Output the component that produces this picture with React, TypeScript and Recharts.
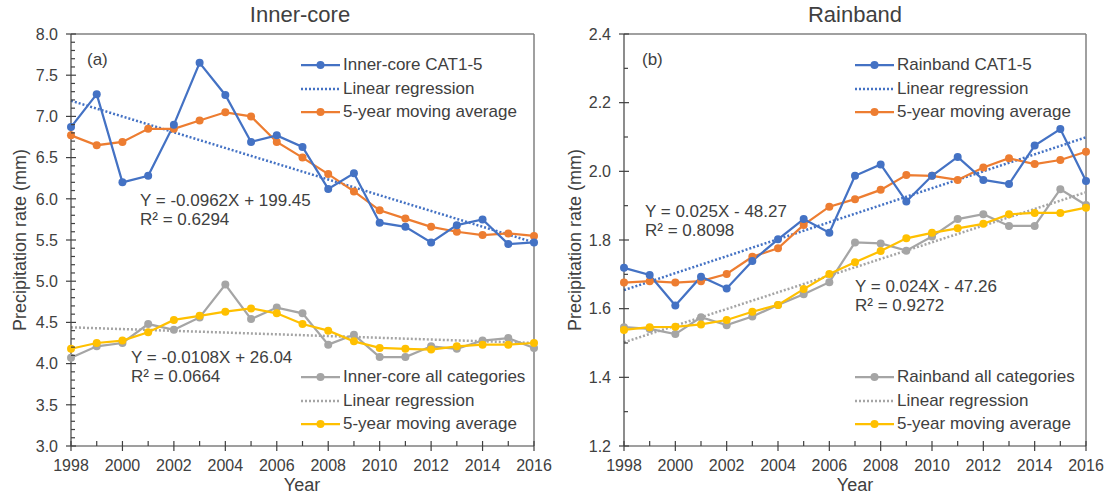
import React from 'react';
import { LineChart, Line, XAxis, YAxis, ReferenceLine } from 'recharts';

const years = [1998, 1999, 2000, 2001, 2002, 2003, 2004, 2005, 2006, 2007, 2008, 2009, 2010, 2011, 2012, 2013, 2014, 2015, 2016];
const xTickLabels = [1998, 2000, 2002, 2004, 2006, 2008, 2010, 2012, 2014, 2016];

const innerCat = [6.87, 7.27, 6.2, 6.28, 6.9, 7.65, 7.26, 6.69, 6.77, 6.63, 6.12, 6.31, 5.71, 5.66, 5.47, 5.68, 5.75, 5.45, 5.47];
const innerCatMA = [6.77, 6.65, 6.69, 6.85, 6.85, 6.95, 7.05, 7.0, 6.69, 6.5, 6.3, 6.09, 5.86, 5.76, 5.66, 5.6, 5.56, 5.58, 5.55];
const innerAll = [4.07, 4.21, 4.25, 4.48, 4.41, 4.56, 4.96, 4.54, 4.68, 4.61, 4.23, 4.35, 4.08, 4.08, 4.21, 4.18, 4.28, 4.31, 4.19];
const innerAllMA = [4.18, 4.25, 4.28, 4.38, 4.53, 4.58, 4.63, 4.67, 4.61, 4.48, 4.4, 4.27, 4.19, 4.18, 4.17, 4.21, 4.23, 4.23, 4.25];
const innerCatReg = [7.19, 5.47];
const innerAllReg = [4.44, 4.25];
const innerYTicks = [3.0, 3.5, 4.0, 4.5, 5.0, 5.5, 6.0, 6.5, 7.0, 7.5, 8.0];

const rainCat = [1.719, 1.698, 1.609, 1.693, 1.659, 1.739, 1.802, 1.861, 1.821, 1.987, 2.02, 1.912, 1.987, 2.042, 1.975, 1.963, 2.075, 2.123, 1.972];
const rainCatMA = [1.676, 1.68, 1.676, 1.68, 1.701, 1.751, 1.776, 1.844, 1.897, 1.919, 1.946, 1.989, 1.987, 1.975, 2.011, 2.038, 2.021, 2.033, 2.057];
const rainAll = [1.546, 1.541, 1.526, 1.575, 1.552, 1.577, 1.611, 1.642, 1.677, 1.793, 1.79, 1.769, 1.81, 1.861, 1.875, 1.841, 1.841, 1.948, 1.902];
const rainAllMA = [1.538, 1.546, 1.547, 1.554, 1.567, 1.591, 1.611, 1.657, 1.701, 1.735, 1.768, 1.805, 1.821, 1.834, 1.847, 1.875, 1.879, 1.879, 1.894];
const rainCatReg = [1.654, 2.099];
const rainAllReg = [1.502, 1.939];
const rainYTicks = [1.2, 1.4, 1.6, 1.8, 2.0, 2.2, 2.4];

const BLUE = '#4472C4';
const ORANGE = '#ED7D31';
const GRAY = '#A5A5A5';
const YELLOW = '#FFC000';
const TEXT = '#404040';
const AXIS = '#404040';
const FONT = '"Liberation Sans", Arial, sans-serif';

function minorTicks(major: number[], parts: number): number[] {
  const out: number[] = [];
  for (let i = 0; i < major.length - 1; i++) {
    const step = (major[i + 1] - major[i]) / parts;
    for (let k = 0; k < parts; k++) out.push(Math.round((major[i] + step * k) * 1000) / 1000);
  }
  out.push(major[major.length - 1]);
  return out;
}

const Y_MARGIN = 13;
const X_MARGIN = 14;

function makeYTick(major: number[], decimals: number) {
  const majorSet = new Set(major.map((v) => v.toFixed(3)));
  return (props: any) => {
    const { x, y, payload } = props;
    const ax = x + Y_MARGIN;
    const isMajor = majorSet.has(Number(payload.value).toFixed(3));
    return (
      <g>
        {isMajor ? (
          <>
            <line x1={ax - 5} x2={ax + 5} y1={y} y2={y} stroke={AXIS} strokeWidth={1.2} />
            <text x={x} y={y} dy="0.36em" textAnchor="end" fontSize={16} fill={TEXT} fontFamily={FONT}>
              {Number(payload.value).toFixed(decimals)}
            </text>
          </>
        ) : (
          <line x1={ax} x2={ax + 4} y1={y} y2={y} stroke={AXIS} strokeWidth={1.2} />
        )}
      </g>
    );
  };
}

const majorX = new Set(xTickLabels);
const XTick = (props: any) => {
  const { x, y, payload } = props;
  const ay = y - X_MARGIN;
  const isMajor = majorX.has(payload.value);
  return (
    <g>
      {isMajor ? (
        <>
          <line x1={x} x2={x} y1={ay - 5} y2={ay + 5} stroke={AXIS} strokeWidth={1.2} />
          <text x={x} y={y} dy="0.71em" textAnchor="middle" fontSize={16} fill={TEXT} fontFamily={FONT}>
            {payload.value}
          </text>
        </>
      ) : (
        <line x1={x} x2={x} y1={ay - 5} y2={ay} stroke={AXIS} strokeWidth={1.2} />
      )}
    </g>
  );
};

type LegendItem = { label: string; color: string; dotted?: boolean };

const Legend = ({ left, top, items }: { left: number; top: number; items: LegendItem[] }) => (
  <div style={{ position: 'absolute', left, top }}>
    {items.map((it, i) => (
      <div key={i} style={{ position: 'absolute', left: 0, top: i * 23.5 - 11, height: 22, display: 'flex', alignItems: 'center', whiteSpace: 'nowrap' }}>
        <svg width={42} height={22} style={{ display: 'block' }}>
          {it.dotted ? (
            <line x1={1} x2={40} y1={11} y2={11} stroke={it.color} strokeWidth={2.5} strokeDasharray="2 2" />
          ) : (
            <>
              <line x1={1} x2={40} y1={11} y2={11} stroke={it.color} strokeWidth={2.25} />
              <circle cx={20.5} cy={11} r={4} fill={it.color} />
            </>
          )}
        </svg>
        <span style={{ fontSize: 17, color: TEXT, fontFamily: FONT, marginLeft: 1 }}>{it.label}</span>
      </div>
    ))}
  </div>
);

const Txt = ({ left, top, children, size = 17 }: any) => (
  <div style={{ position: 'absolute', left, top, fontSize: size, color: TEXT, fontFamily: FONT, whiteSpace: 'nowrap', lineHeight: '19px' }}>
    {children}
  </div>
);

type PanelProps = {
  offsetX: number;
  title: string;
  domain: [number, number];
  yMajor: number[];
  minorParts: number;
  decimals: number;
  cat: number[];
  catMA: number[];
  all: number[];
  allMA: number[];
  catReg: number[];
  allReg: number[];
  marginLeft: number;
  marginRight: number;
};

const W = 554;
const H = 497;

const Panel = (p: PanelProps) => {
  const data = years.map((yr, i) => ({ year: yr, cat: p.cat[i], catMA: p.catMA[i], all: p.all[i], allMA: p.allMA[i] }));
  const catRegData = [
    { year: years[0], v: p.catReg[0] },
    { year: years[years.length - 1], v: p.catReg[1] },
  ];
  const allRegData = [
    { year: years[0], v: p.allReg[0] },
    { year: years[years.length - 1], v: p.allReg[1] },
  ];
  const yTicks = minorTicks(p.yMajor, p.minorParts);
  const YTick = makeYTick(p.yMajor, p.decimals);
  const dot = (c: string) => ({ r: 4, fill: c, stroke: c, strokeWidth: 0 });
  return (
    <div style={{ position: 'absolute', left: p.offsetX, top: 0, width: W, height: H }}>
      <LineChart width={W} height={H} data={data} margin={{ top: 34, right: p.marginRight, bottom: 0, left: p.marginLeft }}>
        <XAxis
          dataKey="year"
          type="number"
          domain={[years[0], years[years.length - 1]]}
          ticks={years}
          interval={0}
          tick={XTick}
          tickLine={false}
          tickSize={0}
          tickMargin={X_MARGIN}
          height={51}
          axisLine={{ stroke: AXIS, strokeWidth: 1.2 }}
          allowDuplicatedCategory={false}
        />
        <YAxis
          type="number"
          domain={p.domain}
          ticks={yTicks}
          interval={0}
          tick={YTick}
          tickLine={false}
          tickSize={0}
          tickMargin={Y_MARGIN}
          width={60}
          axisLine={{ stroke: AXIS, strokeWidth: 1.2 }}
          allowDataOverflow
        />
        <ReferenceLine y={p.domain[1]} stroke="#808080" strokeWidth={1.5} />
        <ReferenceLine x={years[years.length - 1]} stroke="#808080" strokeWidth={1.5} />
        <Line data={allRegData} dataKey="v" stroke={GRAY} strokeWidth={2.5} strokeDasharray="2 2" dot={false} isAnimationActive={false} />
        <Line dataKey="all" stroke={GRAY} strokeWidth={2.25} dot={dot(GRAY)} isAnimationActive={false} />
        <Line dataKey="allMA" stroke={YELLOW} strokeWidth={2.25} dot={dot(YELLOW)} isAnimationActive={false} />
        <Line data={catRegData} dataKey="v" stroke={BLUE} strokeWidth={2.5} strokeDasharray="2 2" dot={false} isAnimationActive={false} />
        <Line dataKey="catMA" stroke={ORANGE} strokeWidth={2.25} dot={dot(ORANGE)} isAnimationActive={false} />
        <Line dataKey="cat" stroke={BLUE} strokeWidth={2.25} dot={dot(BLUE)} isAnimationActive={false} />
      </LineChart>
    </div>
  );
};

export default function App() {
  return (
    <div style={{ position: 'absolute', left: 0, top: 0, width: 1108, height: 497, background: '#fff', overflow: 'hidden', fontFamily: FONT }}>
      <Panel
        offsetX={0}
        title="Inner-core"
        domain={[3, 8]}
        yMajor={innerYTicks}
        minorParts={5}
        decimals={1}
        cat={innerCat}
        catMA={innerCatMA}
        all={innerAll}
        allMA={innerAllMA}
        catReg={innerCatReg}
        allReg={innerAllReg}
        marginLeft={11}
        marginRight={20}
      />
      <Panel
        offsetX={554}
        title="Rainband"
        domain={[1.2, 2.4]}
        yMajor={rainYTicks}
        minorParts={2}
        decimals={1}
        cat={rainCat}
        catMA={rainCatMA}
        all={rainAll}
        allMA={rainAllMA}
        catReg={rainCatReg}
        allReg={rainAllReg}
        marginLeft={10}
        marginRight={22}
      />

      {/* titles */}
      <div style={{ position: 'absolute', left: 200, width: 200, top: 2, textAlign: 'center', fontSize: 22, color: TEXT, fontFamily: FONT }}>Inner-core</div>
      <div style={{ position: 'absolute', left: 755, width: 200, top: 2, textAlign: 'center', fontSize: 22, color: TEXT, fontFamily: FONT }}>Rainband</div>

      {/* axis titles */}
      <div style={{ position: 'absolute', left: 252, width: 100, top: 475, textAlign: 'center', fontSize: 18, color: TEXT, fontFamily: FONT }}>Year</div>
      <div style={{ position: 'absolute', left: 805, width: 100, top: 475, textAlign: 'center', fontSize: 18, color: TEXT, fontFamily: FONT }}>Year</div>
      <div style={{ position: 'absolute', left: 20 - 150, top: 240 - 11, width: 300, height: 22, textAlign: 'center', fontSize: 18, color: TEXT, fontFamily: FONT, transform: 'rotate(-90deg)', lineHeight: '22px' }}>Precipitation rate (mm)</div>
      <div style={{ position: 'absolute', left: 575 - 150, top: 240 - 11, width: 300, height: 22, textAlign: 'center', fontSize: 18, color: TEXT, fontFamily: FONT, transform: 'rotate(-90deg)', lineHeight: '22px' }}>Precipitation rate (mm)</div>

      {/* panel labels */}
      <Txt left={87} top={50}>(a)</Txt>
      <Txt left={642} top={50}>(b)</Txt>

      {/* equations */}
      <Txt left={140} top={191}>Y = -0.0962X + 199.45<br />R² = 0.6294</Txt>
      <Txt left={131} top={348}>Y = -0.0108X + 26.04<br />R² = 0.0664</Txt>
      <Txt left={645} top={202}>Y = 0.025X - 48.27<br />R² = 0.8098</Txt>
      <Txt left={855} top={277}>Y = 0.024X - 47.26<br />R² = 0.9272</Txt>

      {/* legends */}
      <Legend
        left={300}
        top={65}
        items={[
          { label: 'Inner-core CAT1-5', color: BLUE },
          { label: 'Linear regression', color: BLUE, dotted: true },
          { label: '5-year moving average', color: ORANGE },
        ]}
      />
      <Legend
        left={300}
        top={377}
        items={[
          { label: 'Inner-core all categories', color: GRAY },
          { label: 'Linear regression', color: GRAY, dotted: true },
          { label: '5-year moving average', color: YELLOW },
        ]}
      />
      <Legend
        left={854}
        top={65}
        items={[
          { label: 'Rainband CAT1-5', color: BLUE },
          { label: 'Linear regression', color: BLUE, dotted: true },
          { label: '5-year moving average', color: ORANGE },
        ]}
      />
      <Legend
        left={854}
        top={377}
        items={[
          { label: 'Rainband all categories', color: GRAY },
          { label: 'Linear regression', color: GRAY, dotted: true },
          { label: '5-year moving average', color: YELLOW },
        ]}
      />
    </div>
  );
}
